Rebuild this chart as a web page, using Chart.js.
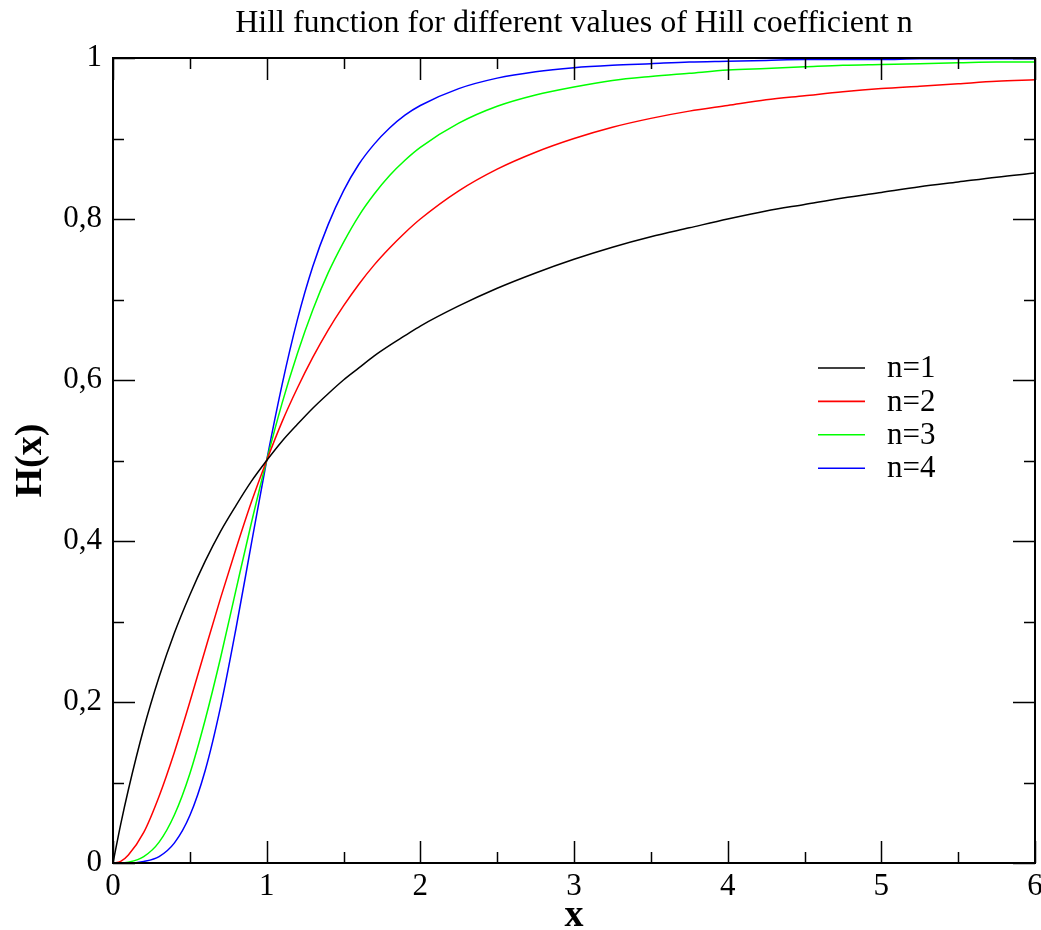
<!DOCTYPE html>
<html lang="en">
<head>
<meta charset="UTF-8" />
<title>Hill function</title>
<script src="https://cdn.jsdelivr.net/npm/chart.js"></script>
<style>
  body { margin: 0; background: #fff; }
  canvas { display: block; }
</style>
</head>
<body>
<canvas id="hillChart" width="1041" height="930"></canvas>
<script>
  // values
  const xVals = [0, 0.05, 0.1, 0.2, 0.3, 0.4, 0.5, 0.6, 0.7, 0.8, 0.9, 1.0, 1.1, 1.2, 1.3, 1.4, 1.5, 1.6, 1.7, 1.8, 1.9, 2.0,
                 2.25, 2.5, 2.75, 3.0, 3.25, 3.5, 3.75, 4.0, 4.25, 4.5, 4.75, 5.0, 5.25, 5.5, 5.75, 6.0];
  const hill1 = [0, .048, .091, .167, .231, .286, .333, .375, .412, .444, .474, .5, .524, .545, .565, .583, .6, .615, .630, .643, .655, .667,
                 .692, .714, .733, .75, .765, .778, .789, .8, .810, .818, .826, .833, .840, .846, .852, .857];
  const hill2 = [0, .002, .010, .038, .083, .138, .2, .265, .329, .390, .448, .5, .548, .590, .628, .662, .692, .719, .743, .764, .783, .8,
                 .835, .862, .883, .9, .914, .925, .934, .941, .948, .953, .958, .962, .965, .968, .971, .973];
  const hill3 = [0, 0, .001, .008, .026, .060, .111, .178, .255, .339, .422, .5, .571, .633, .687, .733, .771, .804, .831, .854, .873, .889,
                 .919, .940, .954, .964, .972, .977, .981, .985, .987, .989, .991, .992, .993, .994, .995, .995];
  const hill4 = [0, 0, 0, .002, .008, .025, .059, .115, .194, .291, .396, .5, .594, .675, .741, .793, .835, .868, .893, .913, .929, .941,
                 .962, .975, .983, .988, .991, .993, .995, .996, .997, .998, .998, .998, .999, .999, .999, .999];

  const seriesLabels = ['n=1', 'n=2', 'n=3', 'n=4'];
  const seriesColors = ['#000000', '#ff0000', '#00ff00', '#0000ff'];

  const xMajor = [0, 1, 2, 3, 4, 5, 6];
  const xMinor = [0.5, 1.5, 2.5, 3.5, 4.5, 5.5];
  const yMajor = [0, 0.2, 0.4, 0.6, 0.8, 1];
  const yMinor = [0.1, 0.3, 0.5, 0.7, 0.9];

  const serif = '"Liberation Serif", "Times New Roman", serif';

  const toPoints = ys => xVals.map((x, i) => ({ x: x, y: ys[i] }));

  // frame, inward ticks on all four sides, and the legend inside the plot
  const framePlugin = {
    id: 'frame',
    afterDraw(chart) {
      const { ctx, chartArea: a, scales: { x, y } } = chart;
      ctx.save();
      ctx.strokeStyle = '#000';
      ctx.lineWidth = 1.5;
      ctx.beginPath();
      const xTick = (v, len) => {
        const px = Math.round(x.getPixelForValue(v)) + 0.5;
        ctx.moveTo(px, a.bottom); ctx.lineTo(px, a.bottom - len);
        ctx.moveTo(px, a.top); ctx.lineTo(px, a.top + len);
      };
      const yTick = (v, len) => {
        const py = Math.round(y.getPixelForValue(v)) + 0.5;
        ctx.moveTo(a.left, py); ctx.lineTo(a.left + len, py);
        ctx.moveTo(a.right, py); ctx.lineTo(a.right - len, py);
      };
      xMajor.forEach(v => xTick(v, 22));
      xMinor.forEach(v => xTick(v, 11));
      yMajor.forEach(v => yTick(v, 22));
      yMinor.forEach(v => yTick(v, 11));
      ctx.stroke();

      ctx.lineWidth = 2;
      ctx.strokeRect(a.left, a.top, a.right - a.left, a.bottom - a.top);

      // legend
      ctx.font = '31px ' + serif;
      ctx.textBaseline = 'middle';
      ctx.textAlign = 'left';
      ctx.fillStyle = '#000';
      chart.data.datasets.forEach((ds, i) => {
        const ly = 368 + i * 33.4;
        ctx.strokeStyle = ds.borderColor;
        ctx.lineWidth = 1.6;
        ctx.beginPath();
        ctx.moveTo(818, ly);
        ctx.lineTo(865, ly);
        ctx.stroke();
        ctx.fillText(ds.label, 887, ly + 1);
      });
      ctx.restore();
    }
  };

  const data = {
    datasets: [hill1, hill2, hill3, hill4].map((ys, i) => ({
      label: seriesLabels[i],
      data: toPoints(ys),
      borderColor: seriesColors[i],
      backgroundColor: seriesColors[i],
      borderWidth: 1.5,
      pointRadius: 0,
      fill: false,
      cubicInterpolationMode: 'monotone'
    }))
  };

  const config = {
    type: 'line',
    data: data,
    options: {
      responsive: false,
      animation: false,
      layout: { padding: { left: 0, right: 6, top: 0, bottom: 0 } },
      plugins: {
        legend: { display: false },
        tooltip: { enabled: false },
        title: {
          display: true,
          text: 'Hill function for different values of Hill coefficient n',
          color: '#000',
          fullSize: false,
          font: { family: serif, size: 32, weight: 'normal' },
          padding: { top: 4, bottom: 15.6 }
        }
      },
      scales: {
        x: {
          type: 'linear',
          min: 0,
          max: 6,
          afterBuildTicks: s => { s.ticks = xMajor.map(v => ({ value: v })); },
          afterFit: s => { s.height = 67; s.paddingLeft = 0; s.paddingRight = 0; },
          grid: { display: false, drawTicks: false },
          border: { display: false },
          ticks: {
            color: '#000',
            padding: 5,
            maxRotation: 0,
            font: { family: serif, size: 31 },
            callback: v => String(v)
          },
          title: {
            display: true,
            text: 'x',
            color: '#000',
            font: { family: serif, size: 38, weight: 'bold' },
            padding: { top: 0, bottom: -9 }
          }
        },
        y: {
          type: 'linear',
          min: 0,
          max: 1,
          afterBuildTicks: s => { s.ticks = yMajor.map(v => ({ value: v })); },
          afterFit: s => { s.width = 113; },
          grid: { display: false, drawTicks: false },
          border: { display: false },
          ticks: {
            color: '#000',
            padding: 11,
            font: { family: serif, size: 31 },
            callback: v => String(v).replace('.', ',')
          },
          title: {
            display: true,
            text: 'H(x)',
            color: '#000',
            font: { family: serif, size: 38, weight: 'bold' },
            padding: { top: 8, bottom: 0 }
          }
        }
      }
    },
    plugins: [framePlugin]
  };

  new Chart(document.getElementById('hillChart'), config);
</script>
</body>
</html>
